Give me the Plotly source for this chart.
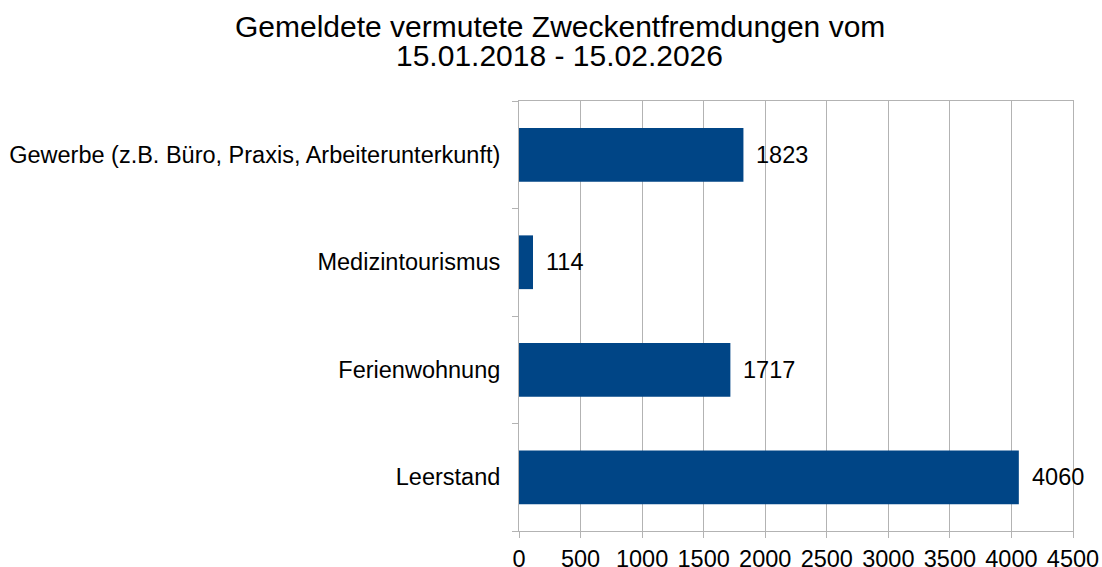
import plotly.graph_objects as go

categories = ["Leerstand", "Ferienwohnung", "Medizintourismus",
              "Gewerbe (z.B. Büro, Praxis, Arbeiterunterkunft)"]
values = [4060, 1717, 114, 1823]
x_ticks = [0, 500, 1000, 1500, 2000, 2500, 3000, 3500, 4000, 4500]

title_lines = ["Gemeldete vermutete Zweckentfremdungen vom", "15.01.2018 - 15.02.2026"]

FONT = "Liberation Sans, Arial, sans-serif"
GRID = "#b3b3b3"
LBL = 23.5

fig = go.Figure()
fig.add_trace(go.Bar(
    x=values, y=categories, orientation="h",
    marker=dict(color="#004586", line=dict(width=0)),
    width=0.5,
    hoverinfo="x+y",
))

for c, v in zip(categories, values):
    fig.add_annotation(x=v, y=c, text=str(v), xanchor="left", yanchor="middle",
                       xshift=11, showarrow=False,
                       font=dict(family=FONT, size=LBL, color="black"))

# two title lines placed in paper coordinates above the plot area
for line, ypos in zip(title_lines, [1.1744, 1.1047]):
    fig.add_annotation(xref="paper", yref="paper", x=0.074, y=ypos, text=line,
                       xanchor="center", yanchor="middle", showarrow=False,
                       font=dict(family=FONT, size=30, color="black"))

fig.update_layout(
    width=1102, height=567,
    margin=dict(l=519, r=29, t=101, b=36, autoexpand=False),
    paper_bgcolor="white", plot_bgcolor="white",
    showlegend=False,
    font=dict(family=FONT, size=LBL, color="black"),
)

fig.update_xaxes(
    range=[0, 4500], tickvals=x_ticks, ticktext=[str(t) for t in x_ticks],
    showgrid=True, gridcolor=GRID, gridwidth=1,
    showline=True, linecolor=GRID, linewidth=1, mirror=True,
    ticks="outside", ticklen=6, tickcolor=GRID,
    ticklabelstandoff=1,
    zeroline=False, automargin=False,
    tickfont=dict(family=FONT, size=LBL, color="black"),
)
fig.update_yaxes(
    categoryorder="array", categoryarray=categories,
    showgrid=False,
    showline=True, linecolor=GRID, linewidth=1, mirror=True,
    ticks="outside", ticklen=6, tickcolor=GRID, tickson="boundaries",
    ticklabelstandoff=13,
    automargin=False,
    tickfont=dict(family=FONT, size=LBL, color="black"),
)

fig.write_html("out.html", config={"displayModeBar": False},
               post_script="document.body.style.margin='0';document.body.style.overflow='hidden';")
